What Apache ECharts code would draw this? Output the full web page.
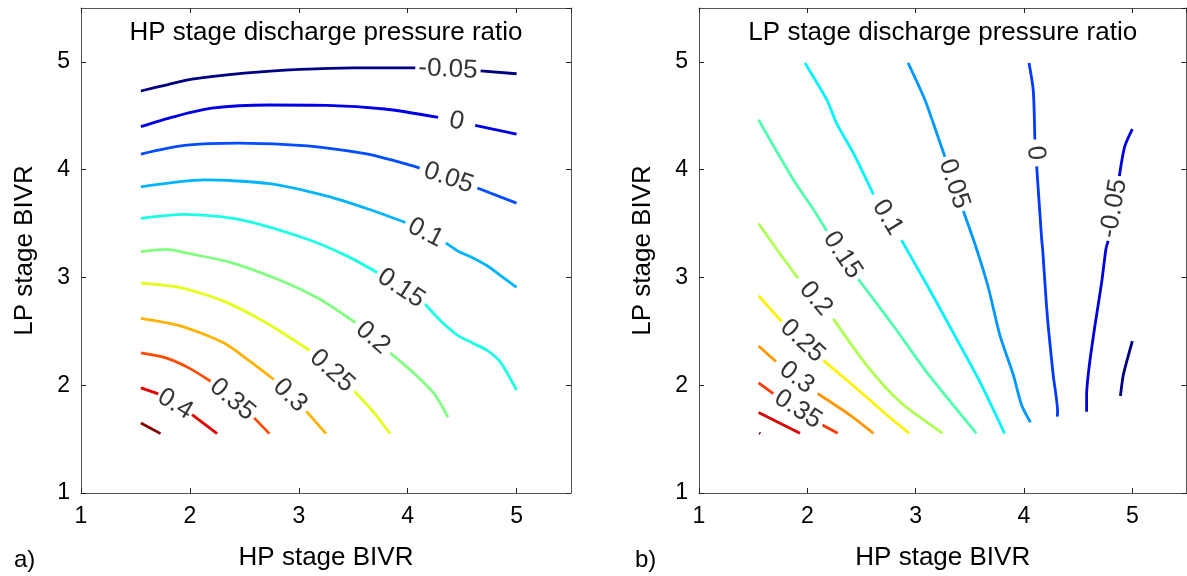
<!DOCTYPE html>
<html>
<head>
<meta charset="utf-8">
<script src="https://cdn.jsdelivr.net/npm/echarts@6/dist/echarts.min.js"></script>
<style>
html, body { margin: 0; padding: 0; background: #fff; }
#chart { width: 1187px; height: 576px; }
</style>
</head>
<body>
<div id="chart"></div>
<script>
// axis range shared by both panels
var axisMin = 1;
var axisMax = 5.5;
var tickStep = 1;

var panelTitles = ['HP stage discharge pressure ratio', 'LP stage discharge pressure ratio'];
var panelTags = ['a)', 'b)'];
var xName = 'HP stage BIVR';
var yName = 'LP stage BIVR';

// contour levels, panel a (HP) and panel b (LP)
var hpLevels = [-0.05, 0, 0.05, 0.1, 0.15, 0.2, 0.25, 0.3, 0.35, 0.4, 0.45];
var lpLevels = [-0.1, -0.05, 0, 0.05, 0.1, 0.15, 0.2, 0.25, 0.3, 0.35, 0.4, 0.45];

// contour lines, [HP BIVR, LP BIVR]; null = gap for the label
var hpLines = [
    [[1.55,4.73],[1.8,4.79],[2.02,4.84],[2.5,4.895],[3.01,4.93],[3.5,4.945],[4.07,4.945], null, [4.67,4.917],[5.0,4.89]],
    [[1.55,4.40],[1.85,4.49],[2.2,4.57],[2.73,4.60],[3.26,4.597],[3.79,4.563],[4.28,4.486], null, [4.62,4.41],[5.0,4.33]],
    [[1.55,4.145],[1.95,4.225],[2.45,4.246],[3.08,4.22],[3.61,4.148],[3.85,4.09],[4.11,4.015], null, [4.64,3.83],[5.0,3.69]],
    [[1.55,3.84],[2.13,3.905],[2.73,3.87],[3.26,3.754],[3.65,3.63],[3.98,3.51], null, [4.35,3.32],[4.46,3.246],[4.6,3.18],[4.73,3.108],[4.85,3.02],[5.0,2.908]],
    [[1.55,3.548],[1.95,3.585],[2.45,3.538],[3.08,3.354],[3.44,3.20],[3.72,3.046], null, [4.16,2.754],[4.3,2.6],[4.46,2.462],[4.6,2.39],[4.73,2.323],[4.85,2.216],[5.0,1.954]],
    [[1.55,3.24],[1.78,3.26],[2.0,3.22],[2.38,3.138],[2.8,2.985],[3.19,2.80],[3.52,2.58], null, [3.84,2.30],[4.07,2.10],[4.25,1.913],[4.37,1.703]],
    [[1.55,2.947],[1.92,2.904],[2.31,2.78],[2.7,2.579],[3.1,2.322], null, [3.51,1.944],[3.68,1.758],[3.84,1.551]],
    [[1.55,2.62],[1.92,2.548],[2.31,2.393],[2.55,2.223],[2.77,2.053], null, [3.07,1.758],[3.25,1.551]],
    [[1.55,2.30],[1.78,2.254],[1.99,2.161],[2.19,2.037], null, [2.59,1.697],[2.73,1.551]],
    [[1.55,1.975],[1.71,1.92], null, [2.02,1.728],[2.25,1.551]],
    [[1.55,1.65],[1.73,1.551]]
];

var lpLines = [
    [[4.89,1.90],[4.916,2.092],[4.947,2.216],[5.0,2.41]],
    [[4.578,1.754],[4.578,1.908],[4.603,2.185],[4.655,2.554],[4.717,2.955],[4.756,3.262],[4.777,3.339], null, [4.88,3.94],[4.93,4.216],[5.0,4.377]],
    [[4.307,1.708],[4.31,1.754],[4.27,2.092],[4.215,2.646],[4.172,3.262],[4.163,3.355],[4.117,4.03], null, [4.10,4.28],[4.085,4.74],[4.046,4.99]],
    [[2.93,4.99],[3.086,4.647],[3.163,4.43],[3.27,4.12], null, [3.44,3.616],[3.563,3.262],[3.67,2.909],[3.778,2.462],[3.9,2.1],[3.978,1.815],[4.06,1.656]],
    [[1.978,4.99],[2.18,4.647],[2.27,4.43],[2.424,4.155],[2.61,3.77], null, [2.87,3.345],[3.116,2.909],[3.378,2.43],[3.593,2.03],[3.82,1.554]],
    [[1.55,4.463],[1.655,4.278],[1.87,3.909],[2.055,3.632],[2.18,3.43], null, [2.47,2.985],[2.793,2.554],[3.10,2.124],[3.56,1.554]],
    [[1.55,3.50],[1.717,3.262],[1.917,2.99], null, [2.24,2.616],[2.548,2.185],[2.855,1.847],[3.249,1.554]],
    [[1.55,2.83],[1.763,2.59], null, [2.147,2.231],[2.455,1.97],[2.70,1.754],[2.94,1.554]],
    [[1.55,2.364],[1.71,2.22], null, [2.095,1.923],[2.394,1.723],[2.61,1.554]],
    [[1.55,2.022],[1.686,1.923], null, [2.14,1.63],[2.28,1.554]],
    [[1.55,1.748],[1.932,1.554]],
    [[1.555,1.558],[1.566,1.551]]
];

var panels = [
    { levels: hpLevels, lines: hpLines, grid: { left: 81, top: 8, width: 490, height: 487 } },
    { levels: lpLevels, lines: lpLines, grid: { left: 699, top: 8, width: 487.5, height: 487 } }
];

var fontFamily = '"Liberation Sans", Arial, sans-serif';

// matlab style jet colormap
function jet(t) {
    function clamp(v) { return Math.max(0, Math.min(1, v)); }
    var r = clamp(1.5 - Math.abs(4 * t - 3));
    var g = clamp(1.5 - Math.abs(4 * t - 2));
    var b = clamp(1.5 - Math.abs(4 * t - 1));
    return 'rgb(' + Math.round(r * 255) + ',' + Math.round(g * 255) + ',' + Math.round(b * 255) + ')';
}

var chart = echarts.init(document.getElementById('chart'), null, { renderer: 'canvas' });

var grids = [], xAxes = [], yAxes = [], lineSeries = [], titles = [], graphics = [];

panels.forEach(function(p, pi) {
    grids.push(p.grid);

    var common = {
        type: 'value',
        gridIndex: pi,
        min: axisMin,
        max: axisMax,
        interval: tickStep,
        splitLine: { show: false },
        axisLine: { show: true, onZero: false, lineStyle: { color: '#555', width: 1 } },
        axisTick: { show: true, inside: true, length: 5, lineStyle: { color: '#222' } }
    };

    xAxes.push(Object.assign({}, common, {
        position: 'bottom',
        name: xName,
        nameLocation: 'middle',
        nameGap: 52,
        nameTextStyle: { fontSize: 26, color: '#000', fontFamily: fontFamily },
        axisLabel: { fontSize: 23, color: '#000', margin: 12, fontFamily: fontFamily, showMaxLabel: false }
    }));
    xAxes.push(Object.assign({}, common, { position: 'top', axisLabel: { show: false } }));

    yAxes.push(Object.assign({}, common, {
        position: 'left',
        name: yName,
        nameLocation: 'middle',
        nameGap: 43,
        nameTextStyle: { fontSize: 26, color: '#000', fontFamily: fontFamily },
        axisLabel: { fontSize: 23, color: '#000', margin: 11, fontFamily: fontFamily, showMaxLabel: false }
    }));
    yAxes.push(Object.assign({}, common, { position: 'right', axisLabel: { show: false } }));

    var lo = p.levels[0], hi = p.levels[p.levels.length - 1];
    p.lines.forEach(function(pts, li) {
        var color = jet((p.levels[li] - lo) / (hi - lo));
        var seg = [];
        pts.concat([null]).forEach(function(pt) {
            if (pt === null) {
                if (seg.length) {
                    lineSeries.push({
                        type: 'line',
                        xAxisIndex: pi * 2,
                        yAxisIndex: pi * 2,
                        data: seg,
                        showSymbol: false,
                        symbol: 'none',
                        smooth: 0.25,
                        silent: true,
                        lineStyle: { color: color, width: 2.8 }
                    });
                }
                seg = [];
            } else {
                seg.push(pt);
            }
        });
    });

    titles.push({
        text: panelTitles[pi],
        left: p.grid.left + p.grid.width / 2,
        top: 20,
        padding: 0,
        textAlign: 'center',
        textStyle: { fontSize: 26, fontWeight: 'normal', color: '#000', fontFamily: fontFamily }
    });
    graphics.push({
        type: 'text',
        left: pi === 0 ? 14 : 635,
        top: 548,
        style: { text: panelTags[pi], fontSize: 24, fill: '#000', font: '24px ' + fontFamily }
    });
});

var option = {
    animation: false,
    backgroundColor: '#fff',
    title: titles,
    grid: grids,
    xAxis: xAxes,
    yAxis: yAxes,
    graphic: graphics,
    series: lineSeries
};

chart.setOption(option);

// place the contour labels in the gaps, turned along the line
var labelSeries = [];
panels.forEach(function(p, pi) {
    var items = [];
    p.lines.forEach(function(pts, li) {
        for (var k = 1; k < pts.length - 1; k++) {
            if (pts[k] !== null) continue;
            var a = pts[k - 1], b = pts[k + 1];
            var finder = { xAxisIndex: pi * 2, yAxisIndex: pi * 2 };
            var pa = chart.convertToPixel(finder, a);
            var pb = chart.convertToPixel(finder, b);
            var ang = Math.atan2(-(pb[1] - pa[1]), pb[0] - pa[0]) * 180 / Math.PI;
            if (ang > 90) ang -= 180;
            if (ang < -90) ang += 180;
            items.push({
                name: String(p.levels[li]),
                value: [(a[0] + b[0]) / 2, (a[1] + b[1]) / 2],
                label: { rotate: ang }
            });
        }
    });
    labelSeries.push({
        type: 'scatter',
        xAxisIndex: pi * 2,
        yAxisIndex: pi * 2,
        symbolSize: 1,
        silent: true,
        z: 5,
        itemStyle: { color: 'rgba(0,0,0,0)' },
        label: {
            show: true,
            position: 'inside',
            formatter: '{b}',
            fontSize: 26,
            color: '#000',
            fontFamily: fontFamily,
            align: 'center',
            verticalAlign: 'middle'
        },
        data: items
    });
});

chart.setOption({ series: lineSeries.concat(labelSeries) });

window.addEventListener('resize', function() { chart.resize(); });
</script>
</body>
</html>
